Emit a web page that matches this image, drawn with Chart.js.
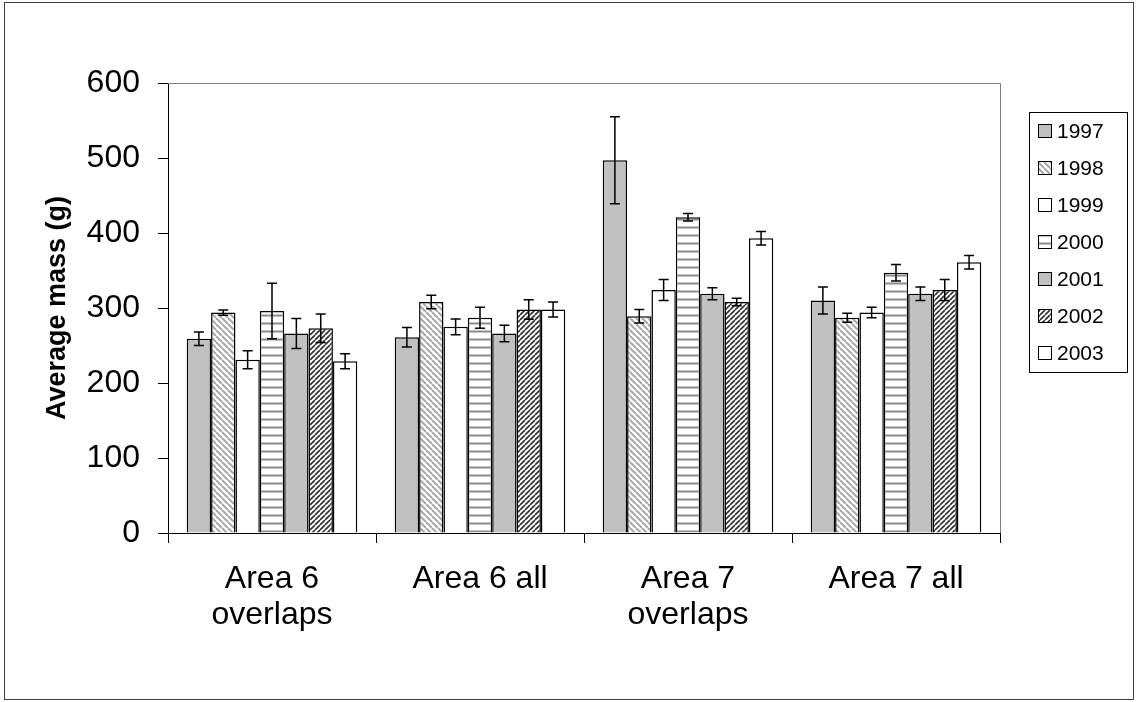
<!DOCTYPE html>
<html>
<head>
<meta charset="utf-8">
<script src="https://cdn.jsdelivr.net/npm/chart.js@4.4.1/dist/chart.umd.min.js"></script>
<style>
html, body { margin: 0; padding: 0; background: #fff; }
canvas { display: block; }
</style>
</head>
<body>
<canvas id="massChart" width="1138" height="702"></canvas>
<script>
// categories and years
var categories = [['Area 6', 'overlaps'], 'Area 6 all', ['Area 7', 'overlaps'], 'Area 7 all'];
var years = ['1997', '1998', '1999', '2000', '2001', '2002', '2003'];

// average mass (g), one array per year, in category order
var mass_1997 = [259, 261, 497, 310];
var mass_1998 = [294, 308, 289, 287];
var mass_1999 = [231, 275, 324, 294];
var mass_2000 = [296, 287, 421, 347];
var mass_2001 = [266, 266, 319, 319];
var mass_2002 = [273, 298, 308, 324];
var mass_2003 = [229, 298, 393, 361];

// error bar half-lengths (g)
var err_1997 = [9, 13, 58, 18];
var err_1998 = [3.5, 9, 9, 6];
var err_1999 = [12, 10.5, 14, 7];
var err_2000 = [37, 14, 5, 11];
var err_2001 = [20, 11, 8, 9];
var err_2002 = [19, 13, 5, 14];
var err_2003 = [10, 10, 9, 9];

var yMin = 0, yMax = 600, yStep = 100;

var FONT = "'Liberation Sans', Arial, sans-serif";
var canvas = document.getElementById('massChart');
var ctx = canvas.getContext('2d');

// fill patterns (Excel style hatches)
function make_pattern(w, h, drawFn) {
	var c = document.createElement('canvas');
	c.width = w; c.height = h;
	var g = c.getContext('2d');
	g.fillStyle = '#ffffff';
	g.fillRect(0, 0, w, h);
	drawFn(g, w, h);
	return ctx.createPattern(c, 'repeat');
}

var light_back_diag = make_pattern(6, 6, function(g, s) {
	g.strokeStyle = '#a8a8a8';
	g.lineWidth = 2;
	[-s, 0, s].forEach(function(k) {
		g.beginPath(); g.moveTo(k, 0); g.lineTo(k + s, s); g.stroke();
	});
});
var dark_fwd_diag = make_pattern(5, 5, function(g, s) {
	g.strokeStyle = '#303030';
	g.lineWidth = 1.6;
	[-s, 0, s].forEach(function(k) {
		g.beginPath(); g.moveTo(k + s, 0); g.lineTo(k, s); g.stroke();
	});
});
var horiz_lines = make_pattern(8, 8, function(g) {
	g.fillStyle = '#8c8c8c';
	g.fillRect(0, 3, 8, 1);
	g.fillStyle = '#c4c4c4';
	g.fillRect(0, 2, 8, 1);
	g.fillRect(0, 4, 8, 1);
});

var fills = ['#c0c0c0', light_back_diag, '#ffffff', horiz_lines, '#c0c0c0', dark_fwd_diag, '#ffffff'];
var massSeries = [mass_1997, mass_1998, mass_1999, mass_2000, mass_2001, mass_2002, mass_2003];
var errSeries  = [err_1997, err_1998, err_1999, err_2000, err_2001, err_2002, err_2003];

var datasets = years.map(function(yr, i) {
	return {
		label: yr,
		data: massSeries[i],
		errors: errSeries[i],
		backgroundColor: fills[i],
		borderColor: '#000000',
		borderWidth: 1.5,
		borderSkipped: 'bottom',
		categoryPercentage: 0.82,
		barPercentage: 1.0
	};
});

// error bars drawn from the y scale
var errorBarPlugin = {
	id: 'errorBars',
	afterDatasetsDraw: function(chart) {
		var c = chart.ctx, yScale = chart.scales.y;
		c.save();
		c.strokeStyle = '#000000';
		c.lineWidth = 1.5;
		chart.data.datasets.forEach(function(ds, i) {
			var meta = chart.getDatasetMeta(i);
			meta.data.forEach(function(bar, j) {
				var v = ds.data[j], e = ds.errors[j];
				var yHi = yScale.getPixelForValue(v + e);
				var yLo = yScale.getPixelForValue(v - e);
				var x = bar.x, cap = 5;
				c.beginPath();
				c.moveTo(x, yHi); c.lineTo(x, yLo);
				c.moveTo(x - cap, yHi); c.lineTo(x + cap, yHi);
				c.moveTo(x - cap, yLo); c.lineTo(x + cap, yLo);
				c.stroke();
			});
		});
		c.restore();
	}
};

// frame, plot area border and the boxed legend
var framePlugin = {
	id: 'frameAndLegend',
	beforeDatasetsDraw: function(chart) {
		var c = chart.ctx, a = chart.chartArea;
		c.save();
		c.strokeStyle = '#808080';
		c.lineWidth = 1;
		c.beginPath();
		c.moveTo(a.left, a.top + 0.5); c.lineTo(a.right + 0.5, a.top + 0.5);
		c.lineTo(a.right + 0.5, a.bottom);
		c.stroke();
		c.restore();
	},
	afterDraw: function(chart) {
		var c = chart.ctx;
		c.save();
		c.strokeStyle = '#404040';
		c.lineWidth = 1;
		c.strokeRect(4.5, 2.5, 1129, 697);

		c.strokeStyle = '#000000';
		c.strokeRect(1029.5, 112.5, 98, 260);
		c.font = '21px ' + FONT;
		c.textBaseline = 'middle';
		c.textAlign = 'left';
		chart.data.datasets.forEach(function(ds, i) {
			var cy = 131 + i * 37;
			c.fillStyle = ds.backgroundColor;
			c.fillRect(1038, cy - 7, 14, 14);
			c.strokeStyle = '#000000';
			c.strokeRect(1038.5, cy - 6.5, 13, 13);
			c.fillStyle = '#000000';
			c.fillText(ds.label, 1057, cy + 1);
		});
		c.restore();
	}
};

var cfg = {
	type: 'bar',
	data: {
		labels: categories,
		datasets: datasets
	},
	options: {
		responsive: false,
		animation: false,
		devicePixelRatio: 1,
		layout: { padding: { top: 83, right: 138, left: 0, bottom: 0 } },
		plugins: {
			legend: { display: false },
			tooltip: { enabled: false }
		},
		scales: {
			x: {
				grid: { offset: true, drawOnChartArea: false, drawTicks: true, tickLength: 10, color: '#000000', lineWidth: 1 },
				border: { display: true, color: '#000000', width: 1 },
				ticks: { color: '#000000', padding: 18, maxRotation: 0, autoSkip: false,
				         font: { family: FONT, size: 32, lineHeight: 1.13 } },
				afterFit: function(scale) { scale.width; scale.height = 169; }
			},
			y: {
				min: yMin,
				max: yMax,
				grid: { drawOnChartArea: false, drawTicks: true, tickLength: 10, color: '#000000', lineWidth: 1 },
				border: { display: true, color: '#000000', width: 1 },
				ticks: { stepSize: yStep, color: '#000000', padding: 18,
				         font: { family: FONT, size: 32 } },
				title: { display: true, text: 'Average mass (g)', color: '#000000',
				         padding: { top: 41, bottom: 0 },
				         font: { family: FONT, size: 27, weight: 'bold', lineHeight: 1.2 } },
				afterFit: function(scale) { scale.width = 168; }
			}
		}
	},
	plugins: [errorBarPlugin, framePlugin]
};

new Chart(ctx, cfg);
</script>
</body>
</html>
